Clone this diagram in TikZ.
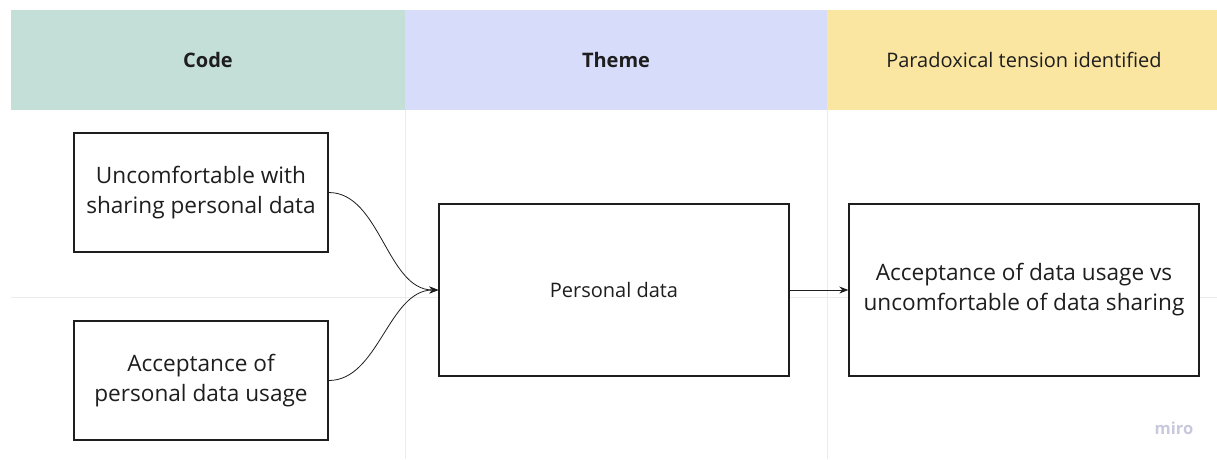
\documentclass[tikz,border=0pt]{standalone}
\usepackage{fontspec}
\setmainfont{Open Sans}
\usetikzlibrary{arrows.meta}
\definecolor{codecol}{RGB}{195,223,216}
\definecolor{themecol}{RGB}{216,220,251}
\definecolor{tensioncol}{RGB}{250,230,160}
\definecolor{gridcol}{RGB}{236,236,236}
\definecolor{inkcol}{RGB}{30,30,30}
\definecolor{markcol}{RGB}{200,200,222}
\tikzset{
  x=1pt, y=-1pt,
  header/.style={font=\fontsize{20}{24}\selectfont, text=inkcol},
  boldheader/.style={font=\bfseries\fontsize{20}{24}\selectfont, text=inkcol},
  card/.style={draw=inkcol, line width=1.4pt, fill=white, align=center,
    inner sep=0pt, text=inkcol, font=\fontsize{22.6}{30}\selectfont},
  link/.style={draw=inkcol, line width=0.8pt, -{Stealth[length=9pt,width=7pt]}},
}
\begin{document}
\begin{tikzpicture}
\useasboundingbox (0,0) rectangle (1217,459);
\fill[white] (0,0) rectangle (1217,459);
% header band
\fill[codecol] (11,10) rectangle (405,110);
\fill[themecol] (405,10) rectangle (827,110);
\fill[tensioncol] (827,10) rectangle (1217,110);
\node[boldheader] (hcode) at (208,60) {Code};
\node[boldheader] (htheme) at (616,60) {Theme};
\node[header] (htension) at (1024,60) {Paradoxical tension identified};
% faint grid
\draw[gridcol, line width=0.8pt] (405,110) -- (405,459);
\draw[gridcol, line width=0.8pt] (827,110) -- (827,459);
\draw[gridcol, line width=0.8pt] (11,297) -- (1217,297);
% cards
\node[card, minimum width=254pt, minimum height=119pt] (uncomf) at (201,192.5)
  {Uncomfortable with\\sharing personal data};
\node[card, minimum width=254pt, minimum height=119pt] (accept) at (201,380.5)
  {Acceptance of\\personal data usage};
\node[card, minimum width=350pt, minimum height=172pt,
  font=\fontsize{20}{24}\selectfont] (theme) at (614,290) {Personal data};
\node[card, minimum width=350pt, minimum height=172pt] (tension) at (1024,290)
  {Acceptance of data usage vs\\uncomfortable of data sharing};
% connectors
\draw[link] (uncomf.east) to[out=0, in=180, looseness=0.9] (theme.west);
\draw[link] (accept.east) to[out=0, in=180, looseness=0.9] (theme.west);
\draw[link] (theme.east) -- (tension.west);
% watermark
\node[text=markcol, font=\bfseries\fontsize{16.5}{18}\selectfont] (mark) at (1174,428) {miro};
\end{tikzpicture}
\end{document}
